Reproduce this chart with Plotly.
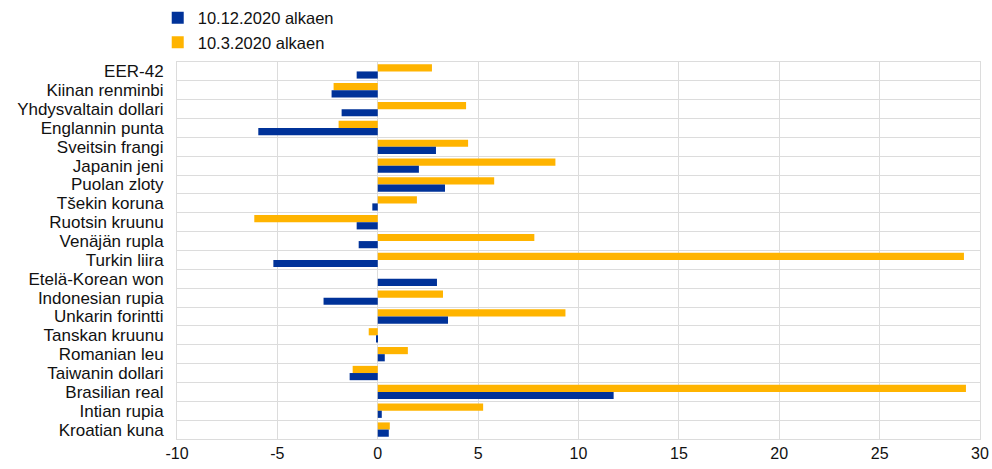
import plotly.graph_objects as go

categories = ["EER-42", "Kiinan renminbi", "Yhdysvaltain dollari", "Englannin punta",
              "Sveitsin frangi", "Japanin jeni", "Puolan zloty", "Tšekin koruna",
              "Ruotsin kruunu", "Venäjän rupla", "Turkin liira", "Etelä-Korean won",
              "Indonesian rupia", "Unkarin forintti", "Tanskan kruunu", "Romanian leu",
              "Taiwanin dollari", "Brasilian real", "Intian rupia", "Kroatian kuna"]

since_dec = [-1.05, -2.3, -1.8, -5.95, 2.9, 2.05, 3.35, -0.27, -1.05, -0.95,
             -5.2, 2.95, -2.7, 3.5, -0.05, 0.35, -1.4, 11.75, 0.2, 0.55]
since_mar = [2.7, -2.2, 4.4, -1.95, 4.5, 8.85, 5.8, 1.95, -6.15, 7.8,
             29.2, 0.0, 3.25, 9.35, -0.45, 1.5, -1.25, 29.3, 5.25, 0.6]

series_names = ["10.12.2020 alkaen", "10.3.2020 alkaen"]
x_ticks = [-10, -5, 0, 5, 10, 15, 20, 25, 30]
x_tick_labels = ["-10", "-5", "0", "5", "10", "15", "20", "25", "30"]

BLUE = "#003299"
ORANGE = "#FFB400"
GRID = "#dcdcdc"

fig = go.Figure()
fig.add_trace(go.Bar(y=categories, x=since_mar, orientation="h", name=series_names[1],
                     marker=dict(color=ORANGE, line=dict(width=0)), legendrank=2,
                     legendgroup="b"))
fig.add_trace(go.Bar(y=categories, x=since_dec, orientation="h", name=series_names[0],
                     marker=dict(color=BLUE, line=dict(width=0)), legendrank=1,
                     legendgroup="a"))

fig.update_layout(
    width=992, height=469,
    margin=dict(l=177, r=12, t=62, b=30, autoexpand=False),
    paper_bgcolor="white", plot_bgcolor="white",
    barmode="group", bargap=0.24, bargroupgap=0,
    font=dict(family="Liberation Sans, Arial, sans-serif", size=16, color="#111111"),
    showlegend=True,
    legend=dict(x=-0.024, xanchor="left", xref="paper",
                y=0.999, yanchor="top", yref="container",
                traceorder="grouped", tracegroupgap=0,
                font=dict(size=16.5), bgcolor="rgba(0,0,0,0)",
                itemwidth=30),
    xaxis=dict(range=[-10, 30], tickmode="array", tickvals=x_ticks, ticktext=x_tick_labels,
               showgrid=True, gridcolor=GRID,
               gridwidth=1, zeroline=True, zerolinecolor=GRID, zerolinewidth=1,
               showline=True, linecolor=GRID, mirror=True, automargin=False,
               ticks="", tickfont=dict(size=16), fixedrange=True),
    yaxis=dict(categoryorder="array", categoryarray=categories, autorange="reversed",
               tickmode="array", tickvals=categories, ticktext=categories,
               tickson="boundaries", showgrid=True, gridcolor=GRID, gridwidth=1,
               showline=True, linecolor=GRID, mirror=True, automargin=False,
               ticks="", ticklabelstandoff=9, fixedrange=True,
               tickfont=dict(size=17)),
)

fig.write_html("out.html")
